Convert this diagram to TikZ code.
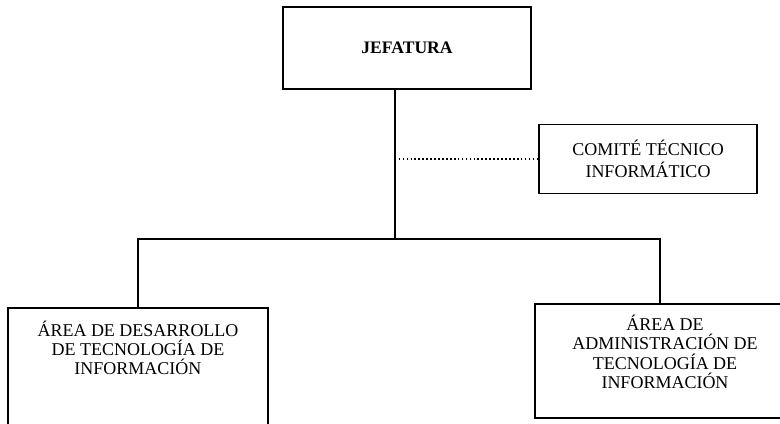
\documentclass[tikz,border=0pt]{standalone}
\usepackage{fontspec}
\setmainfont{Liberation Serif}
\tikzset{box/.style={draw, line width=1.1pt, inner sep=0pt},
         txt/.style={align=center, font=\fontsize{12.8}{13.3}\selectfont},
         conn/.style={line width=1.9pt}}

\begin{document}
\begin{tikzpicture}[x=0.025cm, y=-0.025cm]
\clip (0,0) rectangle (780,423);
\node [box, minimum width=248*0.025cm, minimum height=82*0.025cm, font=\fontsize{12.5}{14}\selectfont\bfseries] (jefatura) at (407,48) {JEFATURA};
\node [box, txt, font=\fontsize{12.8}{15.4}\selectfont, minimum width=218*0.025cm, minimum height=69*0.025cm] (comite) at (648,159) {COMITÉ TÉCNICO\\INFORMÁTICO};
\node [box, minimum width=260*0.025cm, minimum height=140*0.025cm, anchor=north] (desarrollo) at (138,307) {};
\node [txt] (desarrollotxt) at (138,348) {ÁREA DE DESARROLLO\\DE TECNOLOGÍA DE\\INFORMACIÓN};
\node [box, minimum width=250*0.025cm, minimum height=114*0.025cm, anchor=north] (administracion) at (660,303) {};
\node [txt, font=\fontsize{12.8}{13.8}\selectfont] (administraciontxt) at (665,352) {ÁREA DE\\ADMINISTRACIÓN DE\\TECNOLOGÍA DE\\INFORMACIÓN};
\coordinate (bus) at (395,239);
\draw [conn] (jefatura.south -| bus) -- (bus);
\draw [conn] (desarrollo.north) |- (bus) -| (administracion.north);
\draw [line width=0.9pt, dash pattern=on 1.2pt off 1.6pt] (comite.west) -- (comite.west -| bus);
\end{tikzpicture}
\end{document}
